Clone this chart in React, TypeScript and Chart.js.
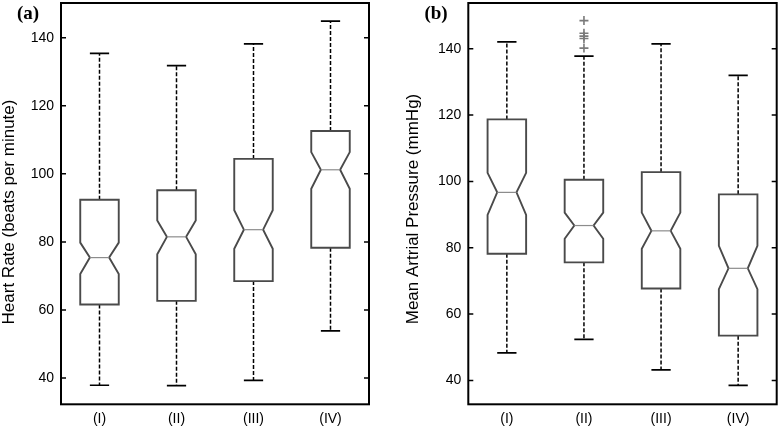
import React, { useEffect, useRef } from 'react';
import { Chart, registerables } from 'chart.js';

Chart.register(...registerables);

const categories = ['(I)', '(II)', '(III)', '(IV)'];
const yTickValues = [40, 60, 80, 100, 120, 140];

// Panel (a): Heart Rate
const hrLowerWhisker = [37.9, 37.8, 39.3, 53.9];
const hrQ1 = [61.6, 62.7, 68.5, 78.3];
const hrNotchLo = [70.6, 76.4, 78.0, 95.6];
const hrMedian = [75.4, 81.5, 83.6, 101.2];
const hrNotchHi = [79.8, 86.3, 89.3, 106.4];
const hrQ3 = [92.4, 95.2, 104.4, 112.6];
const hrUpperWhisker = [135.4, 131.8, 138.2, 144.9];
const hrOutliers: number[][] = [[], [], [], []];

// Panel (b): Mean Arterial Pressure
const mapLowerWhisker = [48.3, 52.4, 43.2, 38.5];
const mapQ1 = [78.2, 75.6, 67.7, 53.5];
const mapNotchLo = [89.9, 82.7, 79.7, 67.5];
const mapMedian = [96.7, 86.7, 85.1, 73.8];
const mapNotchHi = [102.6, 90.6, 90.6, 80.6];
const mapQ3 = [118.7, 100.5, 102.8, 96.1];
const mapUpperWhisker = [142.1, 137.8, 141.5, 132.0];
const mapOutliers: number[][] = [[], [148.5, 144.7, 143.8, 143.1, 140.2], [], []];

const SANS = '"Liberation Sans", Arial, Helvetica, sans-serif';
const SERIF = '"Liberation Serif", "Times New Roman", serif';

type PanelProps = {
  left: number;
  width: number;
  axisWidth: number;
  padRight: number;
  yMin: number;
  yMax: number;
  yLabel: string;
  labelX: number;
  labelY: number;
  tag: string;
  tagX: number;
  lo: number[];
  q1: number[];
  nlo: number[];
  med: number[];
  nhi: number[];
  q3: number[];
  hi: number[];
  out: number[][];
};

function Panel(p: PanelProps) {
  const ref = useRef<HTMLCanvasElement>(null);

  useEffect(() => {
    if (!ref.current) return;
    const boxPlugin = {
      id: 'notchedBox',
      afterDatasetsDraw(chart: any) {
        const { ctx, scales } = chart;
        const x = scales.x;
        const y = scales.y;
        ctx.save();
        for (let i = 0; i < categories.length; i++) {
          const cx = x.getPixelForValue(i);
          const bl = x.getPixelForValue(i - 0.25);
          const br = x.getPixelForValue(i + 0.25);
          const wl = x.getPixelForValue(i - 0.125);
          const wr = x.getPixelForValue(i + 0.125);
          const yq1 = y.getPixelForValue(p.q1[i]);
          const yq3 = y.getPixelForValue(p.q3[i]);
          const ynl = y.getPixelForValue(p.nlo[i]);
          const ynh = y.getPixelForValue(p.nhi[i]);
          const ym = y.getPixelForValue(p.med[i]);
          const ylo = y.getPixelForValue(p.lo[i]);
          const yhi = y.getPixelForValue(p.hi[i]);

          // whiskers (dashed)
          ctx.strokeStyle = '#000';
          ctx.lineWidth = 1.5;
          ctx.setLineDash([4, 2]);
          ctx.beginPath();
          ctx.moveTo(cx, yq3);
          ctx.lineTo(cx, yhi);
          ctx.moveTo(cx, yq1);
          ctx.lineTo(cx, ylo);
          ctx.stroke();
          ctx.setLineDash([]);

          // caps
          ctx.lineWidth = 1.7;
          ctx.beginPath();
          ctx.moveTo(wl, yhi);
          ctx.lineTo(wr, yhi);
          ctx.moveTo(wl, ylo);
          ctx.lineTo(wr, ylo);
          ctx.stroke();

          // notched box
          ctx.strokeStyle = '#4a4a4a';
          ctx.lineWidth = 1.9;
          ctx.lineJoin = 'miter';
          ctx.beginPath();
          ctx.moveTo(bl, yq3);
          ctx.lineTo(br, yq3);
          ctx.lineTo(br, ynh);
          ctx.lineTo(wr, ym);
          ctx.lineTo(br, ynl);
          ctx.lineTo(br, yq1);
          ctx.lineTo(bl, yq1);
          ctx.lineTo(bl, ynl);
          ctx.lineTo(wl, ym);
          ctx.lineTo(bl, ynh);
          ctx.closePath();
          ctx.stroke();

          // median
          ctx.strokeStyle = '#8c8c8c';
          ctx.lineWidth = 1.2;
          ctx.beginPath();
          ctx.moveTo(wl, ym);
          ctx.lineTo(wr, ym);
          ctx.stroke();

          // outliers
          ctx.strokeStyle = '#7a7a7a';
          ctx.lineWidth = 1.6;
          for (const v of p.out[i]) {
            const oy = y.getPixelForValue(v);
            ctx.beginPath();
            ctx.moveTo(cx - 4.5, oy);
            ctx.lineTo(cx + 4.5, oy);
            ctx.moveTo(cx, oy - 4.5);
            ctx.lineTo(cx, oy + 4.5);
            ctx.stroke();
          }
        }
        ctx.restore();
      },
      afterDraw(chart: any) {
        const { ctx, chartArea, scales } = chart;
        const y = scales.y;
        const { left, right, top, bottom } = chartArea;
        ctx.save();
        // frame
        ctx.strokeStyle = '#000';
        ctx.lineWidth = 2;
        ctx.strokeRect(left, top, right - left, bottom - top);
        // inward ticks on both sides
        ctx.lineWidth = 1.5;
        ctx.beginPath();
        for (const t of y.ticks) {
          const ty = y.getPixelForValue(t.value);
          ctx.moveTo(left, ty);
          ctx.lineTo(left + 5, ty);
          ctx.moveTo(right, ty);
          ctx.lineTo(right - 5, ty);
        }
        ctx.stroke();
        // y axis title
        ctx.fillStyle = '#000';
        ctx.font = `17px ${SANS}`;
        ctx.textAlign = 'center';
        ctx.textBaseline = 'middle';
        ctx.translate(p.labelX, p.labelY);
        ctx.rotate(-Math.PI / 2);
        ctx.fillText(p.yLabel, 0, 0);
        ctx.restore();
        // panel tag
        ctx.save();
        ctx.fillStyle = '#000';
        ctx.font = `bold 19px ${SERIF}`;
        ctx.textAlign = 'center';
        ctx.textBaseline = 'middle';
        ctx.fillText(p.tag, p.tagX, 14.5);
        ctx.restore();
      },
    };

    const chart = new Chart(ref.current, {
      type: 'bar',
      data: {
        labels: categories,
        datasets: [
          {
            data: p.q1.map((v, i) => [v, p.q3[i]]) as any,
            backgroundColor: 'rgba(0,0,0,0)',
            borderWidth: 0,
          },
        ],
      },
      options: {
        animation: false,
        responsive: false,
        devicePixelRatio: 1,
        layout: { padding: { left: 0, right: p.padRight, top: 3, bottom: 0 } },
        plugins: {
          legend: { display: false },
          tooltip: { enabled: false },
          title: { display: false },
        },
        scales: {
          x: {
            offset: true,
            grid: { display: false, drawTicks: false },
            border: { display: false },
            ticks: {
              color: '#000',
              font: { family: SANS, size: 14 },
              padding: 6,
              maxRotation: 0,
              autoSkip: false,
            },
            afterFit: (s: any) => {
              s.height = 22.7;
              s.paddingLeft = 0;
              s.paddingRight = 0;
              s.paddingTop = 0;
              s.paddingBottom = 0;
            },
          },
          y: {
            min: p.yMin,
            max: p.yMax,
            grid: { display: false, drawTicks: false },
            border: { display: false },
            ticks: {
              color: '#000',
              font: { family: SANS, size: 14 },
              padding: 7,
            },
            afterBuildTicks: (s: any) => {
              s.ticks = yTickValues.map((v) => ({ value: v }));
            },
            afterFit: (s: any) => {
              s.width = p.axisWidth;
              s.paddingTop = 0;
              s.paddingBottom = 0;
              s.paddingLeft = 0;
              s.paddingRight = 0;
            },
          },
        },
      },
      plugins: [boxPlugin],
    });
    return () => chart.destroy();
  }, []);

  return (
    <canvas
      ref={ref}
      width={p.width}
      height={427}
      style={{ position: 'absolute', left: p.left, top: 0, width: p.width, height: 427 }}
    />
  );
}

export default function App() {
  return (
    <div style={{ position: 'absolute', left: 0, top: 0, width: 779, height: 427, background: '#fff', overflow: 'hidden' }}>
      <Panel
        left={0}
        width={389}
        axisWidth={61}
        padRight={20}
        yMin={32.3}
        yMax={150.2}
        yLabel="Heart Rate (beats per minute)"
        labelX={9}
        labelY={212}
        tag="(a)"
        tagX={28}
        lo={hrLowerWhisker}
        q1={hrQ1}
        nlo={hrNotchLo}
        med={hrMedian}
        nhi={hrNotchHi}
        q3={hrQ3}
        hi={hrUpperWhisker}
        out={hrOutliers}
      />
      <Panel
        left={389}
        width={390}
        axisWidth={79.3}
        padRight={2.3}
        yMin={32.8}
        yMax={153.8}
        yLabel="Mean Artrial Pressure (mmHg)"
        labelX={24}
        labelY={209}
        tag="(b)"
        tagX={47}
        lo={mapLowerWhisker}
        q1={mapQ1}
        nlo={mapNotchLo}
        med={mapMedian}
        nhi={mapNotchHi}
        q3={mapQ3}
        hi={mapUpperWhisker}
        out={mapOutliers}
      />
    </div>
  );
}
